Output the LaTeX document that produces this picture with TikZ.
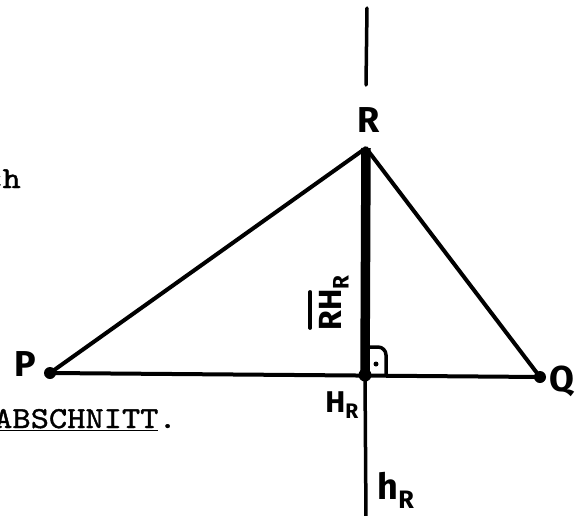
\documentclass[tikz,border=0pt]{standalone}
\usepackage{fontspec}
\newfontfamily\typefont{lmmono10-regular}[Extension=.otf,FakeStretch=1.14,FakeBold=1.3]
\newfontfamily\handfont{Fira Sans}
\usetikzlibrary{positioning,calc}

\begin{document}
\begin{tikzpicture}[x=1pt,y=-1pt,line cap=round,line join=round,
    side/.style={line width=4pt},
    alt/.style={line width=3.5pt},
    seg/.style={line width=9.5pt,line cap=butt},
    hand/.style={font=\handfont\bfseries\fontsize{36}{40}\selectfont,inner sep=0pt},
    type/.style={font=\typefont\fontsize{30.5}{33}\selectfont,inner sep=0pt}]
    \useasboundingbox (0,0) rectangle (582,515);
    % the triangle and the altitude h_R
    \coordinate (P) at (50,373);
    \coordinate (Q) at (540,377);
    \coordinate (R) at (366,148);
    \coordinate (H) at (365,375);
    \coordinate (top) at (367,8);
    \coordinate (topend) at (366,85);
    \coordinate (bot) at (366,520);
    \draw[side] (P) -- (R) -- (Q) -- cycle;
    \draw[seg] (R) -- (H);
    \draw[alt] (H) -- (bot);
    \draw[alt] (top) -- (topend);
    % right angle at H_R
    \draw[alt,rounded corners=8pt] ([yshift=28pt]H) -| ([xshift=21pt]H);
    \fill ([shift={(11pt,11pt)}]H) circle (2.5);
    \foreach \p in {P,Q} \fill (\p) circle (6);
    \fill (H) circle (6.5);
    % labels
    \node[hand] (Plab) at (25,364) {P};
    \node[hand] (Qlab) at (562,381) {Q};
    \node[hand] (Rlab) at (369,120) {R};
    \node[hand,font=\handfont\bfseries\fontsize{30}{34}\selectfont,anchor=east] (Hlab) at (359,405) {H\textsubscript{R}};
    \node[hand,font=\handfont\bfseries\fontsize{36}{40}\selectfont] (hlab) at (396,490) {h\textsubscript{R}};
    \node[hand,font=\handfont\bfseries\fontsize{32}{36}\selectfont,rotate=90] (rhlab) at (334,303) {RH\textsubscript{R}};
    \draw[alt] ($(rhlab.north west)!0.05!(rhlab.north east)+(-9,0)$) -- ($(rhlab.north west)!0.7!(rhlab.north east)+(-9,0)$);
    % typed text
    \node[type,anchor=base east] (chtxt) at (21,188) {ch};
    \node[type,anchor=base west] (abs) at (-6,428) {\underline{ABSCHNITT}.};
\end{tikzpicture}
\end{document}
